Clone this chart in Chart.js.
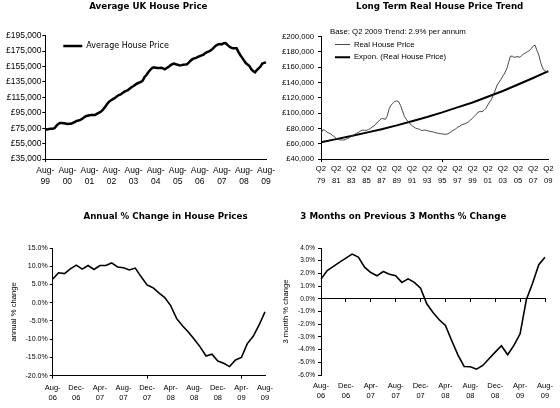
<!DOCTYPE html>
<html>
<head>
<meta charset="utf-8">
<script src="https://cdn.jsdelivr.net/npm/chart.js@4.4.1/dist/chart.umd.min.js"></script>
<style>
html,body{margin:0;padding:0;background:#fff;}
#wrap{position:relative;width:560px;height:408px;overflow:hidden;background:#fff;}
canvas{position:absolute;}
</style>
</head>
<body>
<div id="wrap">
<canvas id="c1" width="280" height="200" style="left:0px;top:0px;"></canvas>
<canvas id="c2" width="280" height="200" style="left:280px;top:0px;"></canvas>
<canvas id="c3" width="280" height="208" style="left:0px;top:200px;"></canvas>
<canvas id="c4" width="280" height="208" style="left:280px;top:200px;"></canvas>
</div>
<script>
// ================= DATA =================
// Chart 1: Average UK House Price, monthly Aug-99 .. Aug-09
const avgPriceTicks = ['Aug-99','Aug-00','Aug-01','Aug-02','Aug-03','Aug-04','Aug-05','Aug-06','Aug-07','Aug-08','Aug-09'];
const avgPrice = [
  73500, 73200, 74000, 74400, 74400, 75000, 78000, 80500, 81700, 81700, 81500, 81000,
  80400, 80600, 80800, 82000, 83000, 84300, 85000, 85800, 87000, 88800, 90500, 91200,
  91700, 92100, 92000, 92100, 93500, 95000, 96000, 98000, 101000, 104000, 107500, 110000,
  111500, 113000, 114500, 116500, 118000, 118800, 120500, 122400, 123500, 124500, 126500, 128500,
  129700, 131500, 133000, 134000, 135000, 137000, 141500, 144000, 147500, 150500, 153000, 154000,
  153500, 153000, 153000, 153500, 152500, 151300, 153000, 154500, 156500, 158000, 158700, 158000,
  157400, 156500, 156800, 157400, 157600, 158000, 160000, 162500, 164500, 165500, 166300, 167500,
  168600, 169500, 170400, 172500, 173600, 174500, 176000, 178000, 180500, 182500, 183800, 184200,
  183800, 185200, 185500, 183000, 181000, 179500, 178600, 178600, 178600, 174000, 170000, 166500,
  163000, 159500, 157500, 155700, 151500, 149000, 147400, 150300, 152500, 155000, 159000, 159800,
  160400
];

// Chart 2: Long Term Real House Price Trend, quarterly Q2 79 .. Q2 09
const realPriceTicks = ['Q2 79','Q2 81','Q2 83','Q2 85','Q2 87','Q2 89','Q2 91','Q2 93','Q2 95','Q2 97','Q2 99','Q2 01','Q2 03','Q2 05','Q2 07','Q2 09'];
const realPrice = [
  73600, 78500, 77500, 75500, 74000, 73000, 71000, 69300, 67000, 65800,
  65000, 64900, 64900, 65500, 66800, 68000, 70000, 71000, 72500, 73800,
  75200, 76800, 78000, 77500, 77500, 78500, 79800, 81800, 83500, 85800,
  88500, 91000, 93000, 92500, 92000, 96500, 106000, 110500, 113000, 115500,
  116000, 115000, 110000, 103000, 96000, 92000, 88500, 86000, 83800, 82000,
  80300, 79500, 79000, 77300, 77500, 78000, 77000, 76500, 76000, 75500,
  74800, 74000, 73600, 73200, 72800, 72500, 72300, 73000, 74500, 76300,
  77800, 79000, 81500, 82500, 84300, 85500, 86000, 87500, 88800, 91000,
  93500, 96000, 98500, 101500, 102000, 102000, 103500, 106000, 110500, 114500,
  118000, 124000, 130000, 136800, 140500, 144200, 148500, 152500, 157500, 166000,
  174500, 174500, 173000, 173500, 174000, 173000, 175500, 177500, 179000, 180500,
  181700, 184500, 187500, 189000, 182000, 176000, 166000, 159000, 155500, 154500,
  153800
];
// Exponential trend line, read at each labelled quarter
const trendAtTicks = [62000, 66000, 70000, 74500, 79000, 84000, 89500, 95000, 101000, 107500, 114000, 121500, 129000, 137500, 146000, 155000];

// Charts 3 & 4: monthly Aug-06 .. Aug-09
const changeTicks = ['Aug-06','Dec-06','Apr-07','Aug-07','Dec-07','Apr-08','Aug-08','Dec-08','Apr-09','Aug-09'];
const annualChange = [
  6.5, 8.2, 8.0, 9.3, 10.3, 9.2, 10.2, 9.1, 10.2, 10.2, 10.9, 9.8,
  9.6, 9.0, 9.5, 7.1, 4.9, 4.1, 2.7, 1.4, -0.8, -4.3, -6.3, -8.0,
  -10.0, -12.1, -14.6, -14.1, -16.0, -16.6, -17.5, -15.7, -15.0, -11.2, -9.2, -6.1,
  -2.5
];
const threeMonthChange = [
  1.55, 2.23, 2.55, 2.89, 3.2, 3.52, 3.28, 2.49, 2.07, 1.81, 2.15, 1.94,
  1.81, 1.29, 1.57, 1.29, 0.84, -0.39, -1.08, -1.65, -2.1, -3.28, -4.41, -5.33,
  -5.35, -5.54, -5.25, -4.72, -4.2, -3.7, -4.41, -3.67, -2.76, -0.08, 1.23, 2.68,
  3.28
];

// ================= CATEGORIES =================
const MONTHS = ['Jan','Feb','Mar','Apr','May','Jun','Jul','Aug','Sep','Oct','Nov','Dec'];
function monthLabels(startMonth, startYear, n) {
  const out = [];
  for (let i = 0; i < n; i++) {
    const k = startMonth + i;
    const y = (startYear + Math.floor(k / 12)) % 100;
    out.push(MONTHS[k % 12] + '-' + String(y).padStart(2, '0'));
  }
  return out;
}
function quarterLabels(startQ, startYear, n) {
  const out = [];
  for (let i = 0; i < n; i++) {
    const k = (startQ - 1) + i;
    const y = (startYear + Math.floor(k / 4)) % 100;
    out.push('Q' + ((k % 4) + 1) + ' ' + String(y).padStart(2, '0'));
  }
  return out;
}
const avgPriceCats = monthLabels(7, 1999, avgPrice.length);
const realPriceCats = quarterLabels(2, 1979, realPrice.length);
const changeCats = monthLabels(7, 2006, annualChange.length);
const trendSeries = realPriceCats.map(c => {
  const i = realPriceTicks.indexOf(c);
  return i >= 0 ? trendAtTicks[i] : null;
});

// ================= HELPERS =================
const SANS = '"Liberation Sans", Arial, sans-serif';
const VERD = '"DejaVu Sans", Verdana, sans-serif';
function pounds(v) { return '£' + String(Math.round(v)).replace(/\B(?=(\d{3})+(?!\d))/g, ','); }
function pct(v) { return v.toFixed(1) + '%'; }
function splitTick(lbl) {
  if (lbl.indexOf('-') >= 0) { const p = lbl.split('-'); return [p[0] + '-', p[1]]; }
  return lbl.split(' ');
}

const placePlugin = {
  id: 'place',
  afterLayout(chart, args, opts) {
    if (opts.titleX !== undefined && chart.titleBlock) {
      chart.titleBlock.left = opts.titleX - 200;
      chart.titleBlock.right = opts.titleX + 200;
      chart.titleBlock.width = 400;
    }
    if (opts.legendX !== undefined && chart.legend) {
      const lg = chart.legend;
      lg.left = opts.legendX; lg.top = opts.legendY;
      lg.width = 220;
      lg.right = lg.left + lg.width; lg.bottom = lg.top + 150;
    }
  }
};

// geometry in canvas coordinates
function makeTitle(text, box) {
  const size = 8.7, lh = size * 1.2;
  const pt = box.titleY - lh / 2;
  const pb = box.top - lh - pt;
  return {
    display: true, text: text, color: '#000',
    font: { family: VERD, size: size, weight: 'bold', lineHeight: 1.2 },
    padding: { top: pt, bottom: pb }
  };
}
function yScale(box, o) {
  return {
    position: 'left',
    min: o.min, max: o.max,
    ticks: { stepSize: o.step, callback: o.fmt, color: '#000', padding: o.pad,
             font: { family: SANS, size: o.size } },
    grid: { drawOnChartArea: false, drawTicks: true, tickLength: 3, tickColor: '#000' },
    border: { display: true, color: '#000', width: 1 },
    title: o.title ? { display: true, text: o.title, color: '#000', padding: { top: o.titlePad, bottom: 0 },
                       font: { family: SANS, size: 7.7, lineHeight: 1.2 } } : { display: false },
    afterFit(s) { s.width = box.left; s.paddingTop = 0; s.paddingBottom = 0; }
  };
}
function xScale(box, cats, ticks, o) {
  return {
    type: 'category',
    position: 'bottom',
    offset: false,
    ticks: {
      autoSkip: false, maxRotation: 0, minRotation: 0, color: '#000', padding: o.pad,
      font: { family: SANS, size: o.size, lineHeight: o.lh },
      callback(v, i) { const l = cats[i]; return ticks.indexOf(l) >= 0 ? splitTick(l) : null; }
    },
    grid: { drawOnChartArea: false, drawTicks: true, tickLength: 3,
            tickColor: c => ticks.indexOf(cats[c.index]) >= 0 ? '#000' : 'rgba(0,0,0,0)' },
    border: { display: true, color: '#000', width: 1 },
    afterFit(s) { s.height = box.h - box.bottom; s.paddingLeft = 0; s.paddingRight = box.w - box.right; }
  };
}
Chart.defaults.animation = false;
Chart.defaults.color = '#000';

// ================= CHART 1 =================
(function () {
  const box = { w: 280, h: 200, left: 45.3, right: 266, top: 35.7, bottom: 159, titleY: 6.8 };
  new Chart(document.getElementById('c1'), {
    type: 'line',
    data: { labels: avgPriceCats, datasets: [{
      label: 'Average House Price', data: avgPrice,
      borderColor: '#000', backgroundColor: '#000', borderWidth: 2.5,
      pointRadius: 0, tension: 0, fill: false
    }]},
    options: {
      responsive: false,
      layout: { padding: 0 },
      plugins: {
        title: makeTitle('Average UK House Price', box),
        legend: { display: true, position: 'chartArea', align: 'start',
          labels: { usePointStyle: true, pointStyle: 'line', pointStyleWidth: 19, padding: 4,
                    color: '#000', font: { family: VERD, size: 8 } } },
        tooltip: { enabled: false },
        place: { titleX: 148.3, legendX: 59.3, legendY: 38 }
      },
      scales: {
        x: xScale(box, avgPriceCats, avgPriceTicks, { size: 8.5, lh: 1.294, pad: 3.2 }),
        y: yScale(box, { min: 35000, max: 195000, step: 20000, fmt: pounds, size: 8.5, pad: 0.8 })
      }
    },
    plugins: [placePlugin]
  });
})();

// ================= CHART 2 =================
(function () {
  const box = { w: 280, h: 200, left: 41, right: 268.3, top: 36.7, bottom: 159, titleY: 6.8 };
  new Chart(document.getElementById('c2'), {
    type: 'line',
    data: { labels: realPriceCats, datasets: [{
      label: 'Real House Price', data: realPrice,
      borderColor: '#333', backgroundColor: '#333', borderWidth: 0.9,
      pointRadius: 0, tension: 0, fill: false
    }, {
      label: 'Expon. (Real House Price)', data: trendSeries, spanGaps: true,
      borderColor: '#000', backgroundColor: '#000', borderWidth: 2,
      pointRadius: 0, tension: 0, fill: false
    }]},
    options: {
      responsive: false,
      layout: { padding: 0 },
      plugins: {
        title: makeTitle('Long Term Real House Price Trend', box),
        legend: { display: true, position: 'chartArea', align: 'start',
          title: { display: true, text: 'Base: Q2 2009 Trend: 2.9% per annum', position: 'start',
                   color: '#000', padding: 0, font: { family: SANS, size: 7.8, lineHeight: 1.0 } },
          labels: { usePointStyle: true, pointStyle: 'line', pointStyleWidth: 15, padding: 5,
                    color: '#000', font: { family: SANS, size: 7.8 } } },
        tooltip: { enabled: false },
        place: { titleX: 159.7, legendX: 50, legendY: 27.8 }
      },
      scales: {
        x: xScale(box, realPriceCats, realPriceTicks, { size: 7.7, lh: 1.5, pad: 1.5 }),
        y: yScale(box, { min: 40000, max: 200000, step: 20000, fmt: pounds, size: 7.7, pad: 4 })
      }
    },
    plugins: [placePlugin]
  });
})();

// ================= CHART 3 =================
(function () {
  const box = { w: 280, h: 208, left: 52.7, right: 265, top: 48, bottom: 175.7, titleY: 16.7 };
  new Chart(document.getElementById('c3'), {
    type: 'line',
    data: { labels: changeCats, datasets: [{
      label: 'Annual % Change', data: annualChange,
      borderColor: '#000', backgroundColor: '#000', borderWidth: 1.6,
      pointRadius: 0, tension: 0, fill: false
    }]},
    options: {
      responsive: false,
      layout: { padding: 0 },
      plugins: {
        title: makeTitle('Annual % Change in House Prices', box),
        legend: { display: false },
        tooltip: { enabled: false },
        place: { titleX: 165.5 }
      },
      scales: {
        x: xScale(box, changeCats, changeTicks, { size: 7.5, lh: 1.4, pad: 3.5 }),
        y: yScale(box, { min: -20, max: 15, step: 5, fmt: pct, size: 7, pad: 2,
                         title: 'annual % change', titlePad: 9.4 })
      }
    },
    plugins: [placePlugin]
  });
})();

// ================= CHART 4 =================
(function () {
  const box = { w: 280, h: 208, left: 41, right: 265, top: 48, bottom: 175, titleY: 16.7 };
  const xb = xScale(box, changeCats, changeTicks, { size: 7.5, lh: 1.37, pad: 5.5 });
  xb.axis = 'x';
  xb.grid = { display: false, drawTicks: false, drawOnChartArea: false };
  xb.border = { display: false };
  const x0 = {
    type: 'category', position: { y: 0 }, offset: false,
    ticks: { display: false, autoSkip: false },
    grid: { drawOnChartArea: false, drawTicks: true, tickLength: 3,
            tickColor: c => changeTicks.indexOf(changeCats[c.index]) >= 0 ? '#000' : 'rgba(0,0,0,0)' },
    border: { display: true, color: '#000', width: 1 },
    afterFit(s) { s.height = 0; s.paddingLeft = 0; s.paddingRight = 0; }
  };
  new Chart(document.getElementById('c4'), {
    type: 'line',
    data: { labels: changeCats, datasets: [{
      label: '3 Months on Previous 3 Months % Change', data: threeMonthChange, xAxisID: 'x',
      borderColor: '#000', backgroundColor: '#000', borderWidth: 1.6,
      pointRadius: 0, tension: 0, fill: false
    }]},
    options: {
      responsive: false,
      layout: { padding: 0 },
      plugins: {
        title: makeTitle('3 Months on Previous 3 Months % Change', box),
        legend: { display: false },
        tooltip: { enabled: false },
        place: { titleX: 123.3 }
      },
      scales: {
        x: x0,
        x2: xb,
        y: yScale(box, { min: -6, max: 4, step: 1, fmt: pct, size: 6.5, pad: 3,
                         title: '3 month % change', titlePad: 1.4 })
      }
    },
    plugins: [placePlugin]
  });
})();
</script>
</body>
</html>
